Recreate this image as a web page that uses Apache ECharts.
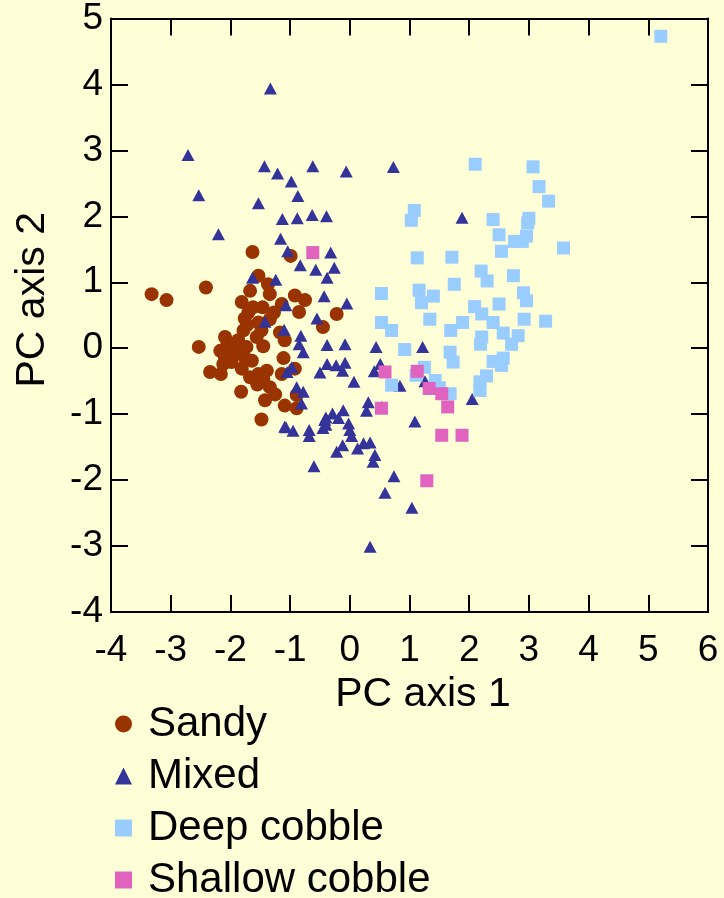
<!DOCTYPE html>
<html>
<head>
<meta charset="utf-8">
<title>PC axes</title>
<script src="https://cdn.jsdelivr.net/npm/echarts@6/dist/echarts.min.js"></script>
<style>
  html, body { margin: 0; padding: 0; background: #ffffd7; }
  #chart { width: 724px; height: 898px; }
</style>
</head>
<body>
<div id="chart"></div>
<script>
    // scores on the first two principal components
    var seriesNames = ['Sandy', 'Mixed', 'Deep cobble', 'Shallow cobble'];
    var xTicks = [-4, -3, -2, -1, 0, 1, 2, 3, 4, 5, 6];
    var yTicks = [-4, -3, -2, -1, 0, 1, 2, 3, 4, 5];

    var sandy = [
        [-3.32, 0.82], [-3.07, 0.73], [-2.41, 0.92], [-1.63, 1.46], [-0.99, 1.40], [-1.53, 1.10],
        [-1.37, 0.97], [-1.34, 0.82], [-1.67, 0.87], [-1.81, 0.70], [-1.46, 0.62], [-0.92, 0.80],
        [-0.75, 0.73], [-0.85, 0.55], [-1.14, 0.67], [-1.27, 0.54], [-0.22, 0.52], [-0.45, 0.32],
        [-1.70, 0.54], [-1.76, 0.45], [-1.53, 0.39], [-1.34, 0.44], [-1.48, 0.27], [-1.78, 0.27],
        [-1.56, 0.17], [-1.17, 0.24], [-1.09, 0.12], [-2.09, 0.17], [-1.87, 0.12], [-1.45, 0.03],
        [-2.53, 0.02], [-2.17, -0.04], [-2.01, 0.02], [-1.84, -0.04], [-1.73, 0.02], [-2.09, -0.14],
        [-1.95, -0.09], [-2.12, -0.24], [-1.98, -0.21], [-1.76, -0.14], [-1.64, -0.19], [-1.11, -0.15],
        [-2.34, -0.36], [-2.16, -0.39], [-1.81, -0.31], [-1.67, -0.44], [-1.53, -0.39], [-1.39, -0.34],
        [-1.45, -0.46], [-1.14, -0.39], [-0.92, -0.31], [-1.34, -0.59], [-1.25, -0.70], [-1.42, -0.79],
        [-1.82, -0.66], [-1.09, -0.87], [-0.89, -0.91], [-0.89, -0.71], [-1.48, -1.08],
        [-1.92, 0.00], [-2.05, 0.08], [-1.98, -0.12], [-1.72, 0.35], [-1.62, 0.62], [-1.55, -0.55]
    ];
    var mixed = [
        [-1.33, 3.94], [-2.71, 2.93], [-1.43, 2.76], [-1.21, 2.65], [-0.62, 2.76], [-0.06, 2.68],
        [0.73, 2.75], [-0.98, 2.53], [-2.53, 2.32], [-0.87, 2.31], [-1.53, 2.20], [-1.13, 1.96],
        [-0.88, 1.97], [-0.63, 2.02], [-0.39, 2.00], [1.88, 1.98], [-2.20, 1.73], [-1.16, 1.66],
        [-1.04, 1.47], [-0.32, 1.45], [-0.83, 1.26], [-0.57, 1.19], [-0.26, 1.22], [-0.38, 1.07],
        [-1.24, 1.04], [-1.63, 1.07], [-0.43, 0.79], [-0.05, 0.68], [-1.07, 0.65], [-0.55, 0.45],
        [-1.42, 0.40], [-1.10, 0.28], [-0.82, 0.19], [-0.85, 0.06], [-0.78, -0.06], [-0.38, 0.05],
        [-0.08, 0.06], [0.44, 0.02], [1.22, 0.02], [-0.38, -0.24], [-0.23, -0.26], [-0.08, -0.22],
        [-0.12, -0.34], [-0.50, -0.37], [0.51, -0.24], [0.41, -0.35], [0.07, -0.51], [0.84, -0.57],
        [1.26, -0.50], [2.05, -0.77], [-1.05, -0.36], [-0.97, -0.29], [-0.89, -0.59], [-0.78, -0.66],
        [-0.81, -0.84], [0.31, -0.82], [0.28, -0.95], [0.53, -0.89], [-0.29, -0.99], [-0.11, -0.94],
        [-0.40, -1.05], [-0.02, -1.14], [-0.19, -1.06], [1.09, -1.11], [-1.07, -1.20], [-0.95, -1.25],
        [-0.68, -1.24], [-0.68, -1.33], [-0.45, -1.21], [-0.40, -1.16], [0.00, -1.24], [0.03, -1.33],
        [-0.22, -1.57], [-0.12, -1.47], [0.13, -1.52], [0.23, -1.44], [0.34, -1.43], [0.42, -1.62],
        [0.39, -1.72], [-0.60, -1.79], [0.74, -1.94], [0.59, -2.19], [1.04, -2.42], [0.34, -3.01],
        [-1.09, -1.19], [-0.42, -1.09]
    ];
    var deepCobble = [
        [5.21, 4.73], [2.10, 2.79], [3.07, 2.75], [3.17, 2.45], [3.33, 2.23], [1.08, 2.09],
        [1.03, 1.94], [2.40, 1.95], [3.00, 1.97], [2.98, 1.90], [2.50, 1.72], [2.76, 1.62],
        [2.89, 1.62], [2.96, 1.70], [2.54, 1.47], [3.58, 1.52], [1.13, 1.37], [1.71, 1.38],
        [2.20, 1.17], [2.74, 1.10], [1.75, 0.97], [2.30, 1.02], [2.91, 0.84], [2.96, 0.72],
        [1.16, 0.88], [1.20, 0.69], [1.40, 0.79], [0.53, 0.83], [2.09, 0.63], [2.50, 0.67],
        [2.21, 0.52], [1.34, 0.44], [1.89, 0.39], [2.40, 0.39], [2.92, 0.44], [3.28, 0.41],
        [0.53, 0.39], [0.70, 0.27], [1.69, 0.27], [2.57, 0.23], [2.21, 0.17], [2.82, 0.19],
        [2.19, 0.06], [2.71, 0.06], [0.92, -0.02], [1.68, -0.06], [1.73, -0.21], [2.40, -0.20],
        [2.57, -0.15], [2.54, -0.26], [1.25, -0.29], [1.11, -0.41], [2.29, -0.42], [2.18, -0.51],
        [2.18, -0.64], [0.70, -0.56], [1.43, -0.49], [1.68, -0.69], [1.50, -0.60]
    ];
    var shallowCobble = [
        [-0.62, 1.45], [0.59, -0.36], [1.13, -0.35], [1.33, -0.61], [1.54, -0.69], [1.64, -0.89],
        [1.54, -1.32], [1.88, -1.32], [0.53, -0.91], [1.29, -2.01]
    ];

    var $echart = echarts.init(document.getElementById('chart'));

    var font = 'Liberation Sans, Arial, sans-serif';
    var frameLine = { show: true, onZero: false, lineStyle: { color: '#000', width: 2 } };
    var frameTick = { show: true, inside: true, length: 17, lineStyle: { color: '#000', width: 2 } };

    function axisX(pos, withLabels) {
        return {
            type: 'value', position: pos, min: xTicks[0], max: xTicks[xTicks.length - 1], interval: 1,
            axisLine: frameLine, axisTick: frameTick, splitLine: { show: false },
            axisLabel: { show: withLabels, color: '#000', fontFamily: font, fontSize: 37, margin: 20 },
            name: withLabels ? 'PC axis 1' : '', nameLocation: 'middle', nameGap: 49,
            nameTextStyle: { color: '#000', fontFamily: font, fontSize: 41, padding: [0, 0, 0, 27] }
        };
    }
    function axisY(pos, withLabels) {
        return {
            type: 'value', position: pos, min: yTicks[0], max: yTicks[yTicks.length - 1], interval: 1,
            axisLine: frameLine, axisTick: frameTick, splitLine: { show: false },
            axisLabel: { show: withLabels, color: '#000', fontFamily: font, fontSize: 37, margin: 8, padding: [16, 0, 0, 0] },
            name: withLabels ? 'PC axis 2' : '', nameLocation: 'middle', nameGap: 58,
            nameTextStyle: { color: '#000', fontFamily: font, fontSize: 41, padding: [0, 0, 0, 31] }
        };
    }

    $echart.setOption({
        backgroundColor: '#ffffd7',
        animation: false,
        grid: { left: 111, right: 16, top: 14, bottom: 286 },
        xAxis: [axisX('bottom', true), axisX('top', false)],
        yAxis: [axisY('left', true), axisY('right', false)],
        legend: {
            orient: 'vertical', left: 110, top: 698, height: 260, itemGap: 10,
            itemWidth: 17, itemHeight: 17,
            textStyle: { color: '#000', fontFamily: font, fontSize: 42, padding: [0, 0, 0, 11] },
            data: seriesNames
        },
        series: [
            { name: seriesNames[0], type: 'scatter', symbol: 'circle', symbolSize: 14, data: sandy,
              itemStyle: { color: '#993300', opacity: 1 } },
            { name: seriesNames[1], type: 'scatter', symbol: 'triangle', symbolSize: [13, 12], data: mixed,
              itemStyle: { color: '#333399', opacity: 1 } },
            { name: seriesNames[2], type: 'scatter', symbol: 'rect', symbolSize: 13, data: deepCobble,
              itemStyle: { color: '#99ccff', opacity: 1 } },
            { name: seriesNames[3], type: 'scatter', symbol: 'rect', symbolSize: 13, data: shallowCobble,
              itemStyle: { color: '#e063c0', opacity: 1 } }
        ]
    });
</script>
</body>
</html>
